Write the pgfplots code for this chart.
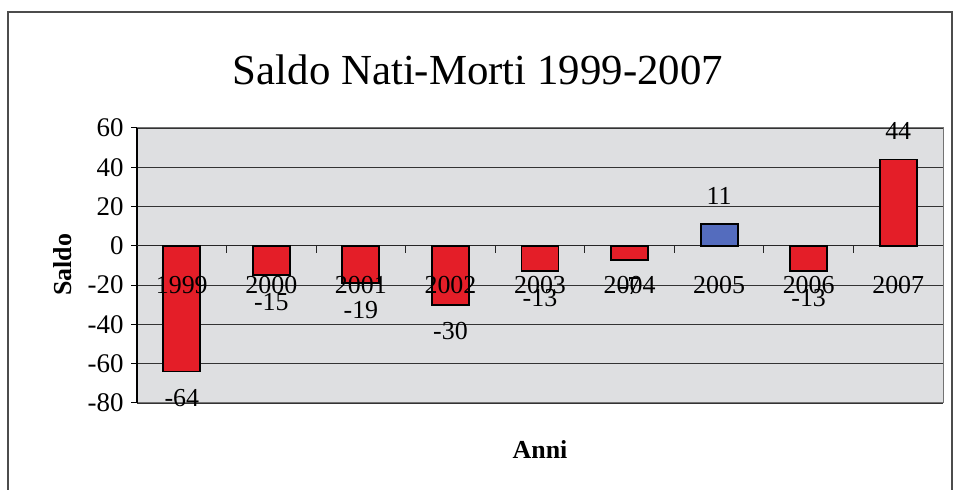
\documentclass[border=0pt]{standalone}
\usepackage{fontspec}
\setmainfont{Liberation Serif}
\usepackage{pgfplots}
\pgfplotsset{compat=1.18}
\definecolor{barred}{RGB}{228,30,40}
\definecolor{barblue}{RGB}{84,108,190}
\definecolor{bg}{RGB}{222,223,225}
\begin{document}
\begin{tikzpicture}[x=1bp,y=1bp]
\useasboundingbox (0,0) rectangle (960,490);
\draw[line width=1.2bp, black!70] (8,-5) -- (8,478) -- (952,478) -- (952,-5);
\node[font=\fontsize{43}{47}\selectfont] at (478,420) {Saldo Nati-Morti 1999-2007};
\node[font=\fontsize{26}{30}\selectfont\bfseries, rotate=90] at (63,225) {Saldo};
\node[font=\fontsize{26}{30}\selectfont\bfseries] at (540,40) {Anni};
\begin{axis}[
  at={(137bp,87bp)}, anchor=south west, width=806bp, height=275bp, scale only axis,
  xmin=-0.5, xmax=8.5, ymin=-80, ymax=60, ytick={-80,-60,...,60}, xtick=\empty,
  ymajorgrids, grid style={line width=0.8bp, black!80},
  axis background/.style={fill=bg},
  axis line style={line width=1bp, black!55},
  tick align=outside, tick pos=left, major tick length=6bp, ytick style={black, line width=1bp},
  yticklabel style={font=\fontsize{27}{30}\selectfont, xshift=-4bp},
  /pgf/number format/assume math mode=true,
  clip=false,
]
\draw[black, line width=1.2bp] (axis cs:-0.5,-80) -- (axis cs:-0.5,60);
\draw[black!85, line width=1bp] (axis cs:-0.5,0) -- (axis cs:8.5,0);
\pgfplotsinvokeforeach{0.5,1.5,2.5,3.5,4.5,5.5,6.5,7.5}{
  \draw[black!85, line width=1bp] (axis cs:#1,0) -- (axis cs:#1,-3.5);
}
\addplot[ybar, bar width=37bp, bar shift=0pt, fill=barred, draw=black, line width=1.8bp,
  point meta=explicit symbolic, nodes near coords,
  nodes near coords style={anchor=north, inner sep=0pt, yshift=-17bp, font=\fontsize{26}{30}\selectfont, text=black}]
  coordinates {(0,-64)[-64] (1,-15)[-15] (2,-19)[-19] (3,-30)[-30] (4,-13)[-13] (5,-7)[-7] (7,-13)[-13]};
\addplot[ybar, bar width=37bp, bar shift=0pt, fill=barblue, draw=black, line width=1.8bp,
  point meta=explicit symbolic, nodes near coords,
  nodes near coords style={anchor=south, inner sep=0pt, yshift=19bp, font=\fontsize{26}{30}\selectfont, text=black}]
  coordinates {(6,11)[11]};
\addplot[ybar, bar width=37bp, bar shift=0pt, fill=barred, draw=black, line width=1.8bp,
  point meta=explicit symbolic, nodes near coords,
  nodes near coords style={anchor=south, inner sep=0pt, yshift=19bp, font=\fontsize{26}{30}\selectfont, text=black}]
  coordinates {(8,44)[44]};
\addplot[only marks, mark=*, mark size=0pt, mark options={draw=none, fill=none},
  point meta=explicit symbolic, nodes near coords,
  nodes near coords style={anchor=center, inner sep=0pt, font=\fontsize{26}{30}\selectfont, text=black}]
  coordinates {(0,-20)[1999] (1,-20)[2000] (2,-20)[2001] (3,-20)[2002] (4,-20)[2003] (5,-20)[2004] (6,-20)[2005] (7,-20)[2006] (8,-20)[2007]};
\end{axis}
\end{tikzpicture}
\end{document}
